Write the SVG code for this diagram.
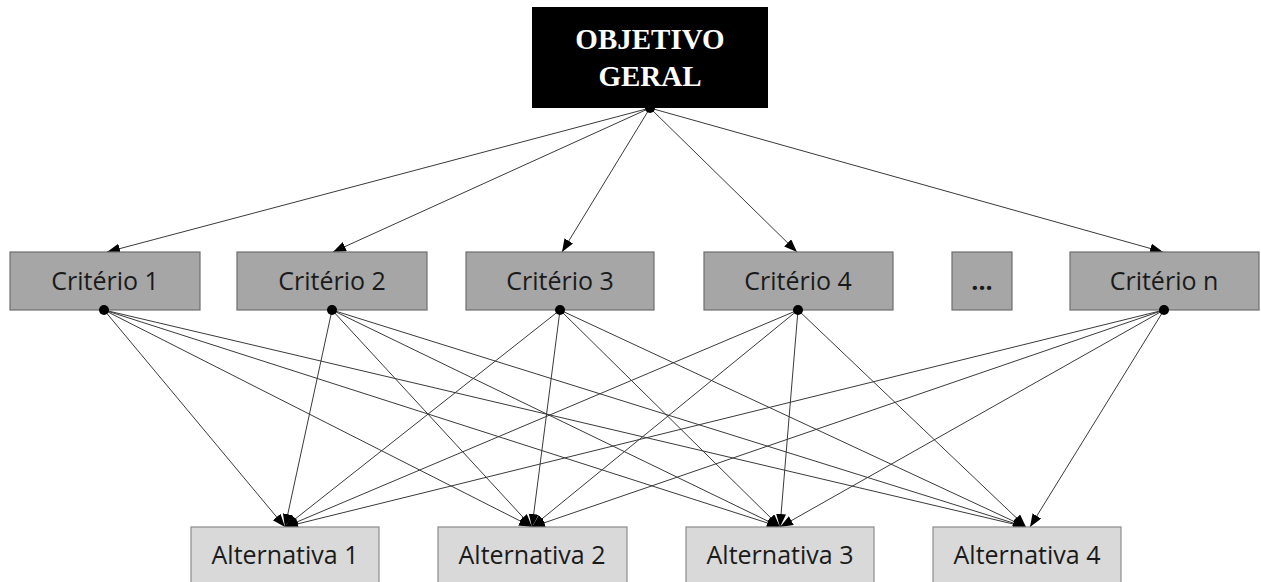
<svg xmlns="http://www.w3.org/2000/svg" width="1261" height="582" viewBox="0 0 1261 582">
<style>
.crit rect{fill:#a6a6a6;stroke:#6e6e6e;stroke-width:1.2}
.alt rect{fill:#d9d9d9;stroke:#8c8c8c;stroke-width:1.2}
.lbl{font-family:"Open Sans","Noto Sans",sans-serif;font-size:25px;fill:#1a1a1a;text-anchor:middle}
.top{font-family:"Liberation Serif","Times New Roman",serif;font-weight:bold;font-size:29px;fill:#ffffff;text-anchor:middle}
#connectors line{stroke:#3a3a3a;stroke-width:1;marker-end:url(#arr)}
.dot{fill:#000}
</style>
<defs>
<marker id="arr" markerUnits="userSpaceOnUse" markerWidth="14" markerHeight="11" refX="13" refY="5" orient="auto">
<path d="M0,0 L13,5 L0,10 z" fill="#000"/>
</marker>
</defs>
<rect width="1261" height="582" fill="#fff"/>
<g id="connectors">
<line x1="650" y1="108" x2="107" y2="252"/>
<line x1="650" y1="108" x2="333" y2="252"/>
<line x1="650" y1="108" x2="562" y2="252"/>
<line x1="650" y1="108" x2="797" y2="252"/>
<line x1="650" y1="108" x2="1163" y2="252"/>
<line x1="104" y1="310" x2="285" y2="527"/>
<line x1="104" y1="310" x2="532" y2="527"/>
<line x1="104" y1="310" x2="780" y2="527"/>
<line x1="104" y1="310" x2="1026" y2="527"/>
<line x1="332" y1="310" x2="285" y2="527"/>
<line x1="332" y1="310" x2="532" y2="527"/>
<line x1="332" y1="310" x2="780" y2="527"/>
<line x1="332" y1="310" x2="1026" y2="527"/>
<line x1="560" y1="310" x2="285" y2="527"/>
<line x1="560" y1="310" x2="532" y2="527"/>
<line x1="560" y1="310" x2="780" y2="527"/>
<line x1="560" y1="310" x2="1026" y2="527"/>
<line x1="798" y1="310" x2="285" y2="527"/>
<line x1="798" y1="310" x2="532" y2="527"/>
<line x1="798" y1="310" x2="780" y2="527"/>
<line x1="798" y1="310" x2="1026" y2="527"/>
<line x1="1164" y1="310" x2="285" y2="527"/>
<line x1="1164" y1="310" x2="532" y2="527"/>
<line x1="1164" y1="310" x2="780" y2="527"/>
<line x1="1164" y1="310" x2="1030" y2="527"/>
</g>
<g id="objetivo">
<rect x="532" y="7" width="236" height="101" fill="#000"/>
<text class="top" x="650" y="49">OBJETIVO</text>
<text class="top" x="650" y="86">GERAL</text>
<circle class="dot" cx="650" cy="108" r="5"/>
</g>
<g id="crit1" class="crit"><rect x="10" y="252" width="190" height="58"/><text class="lbl" x="105" y="290">Critério 1</text><circle class="dot" cx="104" cy="310" r="5"/></g>
<g id="crit2" class="crit"><rect x="237" y="252" width="190" height="58"/><text class="lbl" x="332" y="290">Critério 2</text><circle class="dot" cx="332" cy="310" r="5"/></g>
<g id="crit3" class="crit"><rect x="466" y="252" width="188" height="58"/><text class="lbl" x="560" y="290">Critério 3</text><circle class="dot" cx="560" cy="310" r="5"/></g>
<g id="crit4" class="crit"><rect x="704" y="252" width="189" height="58"/><text class="lbl" x="798" y="290">Critério 4</text><circle class="dot" cx="798" cy="310" r="5"/></g>
<g id="dots" class="crit"><rect x="952" y="252" width="60" height="58"/><text class="lbl" x="982" y="290" style="font-weight:bold">...</text></g>
<g id="critn" class="crit"><rect x="1070" y="252" width="189" height="58"/><text class="lbl" x="1164" y="290">Critério n</text><circle class="dot" cx="1164" cy="310" r="5"/></g>
<g id="alt1" class="alt"><rect x="191" y="527" width="188" height="58"/><text class="lbl" x="285" y="564">Alternativa 1</text></g>
<g id="alt2" class="alt"><rect x="438" y="527" width="189" height="58"/><text class="lbl" x="532" y="564">Alternativa 2</text></g>
<g id="alt3" class="alt"><rect x="686" y="527" width="188" height="58"/><text class="lbl" x="780" y="564">Alternativa 3</text></g>
<g id="alt4" class="alt"><rect x="933" y="527" width="188" height="58"/><text class="lbl" x="1027" y="564">Alternativa 4</text></g>
</svg>
